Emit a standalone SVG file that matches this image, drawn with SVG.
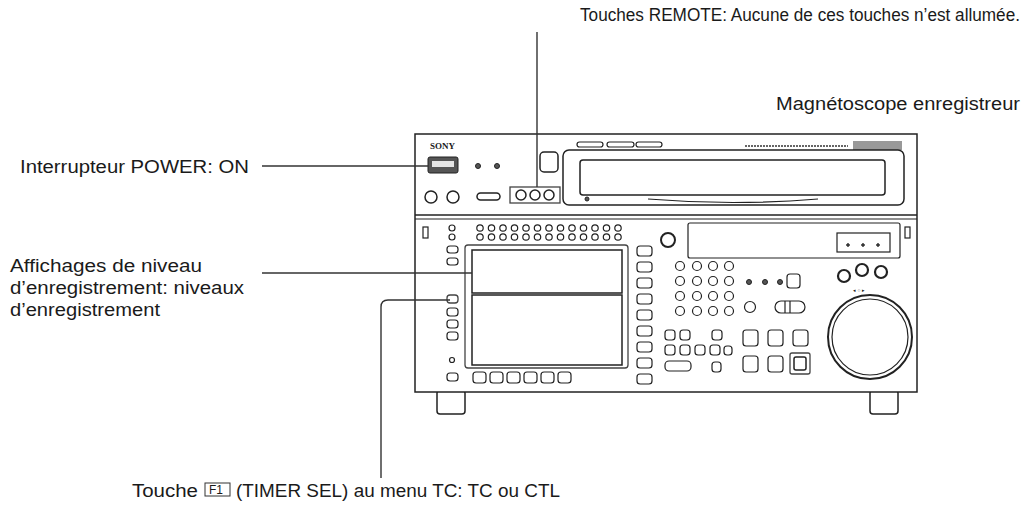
<svg xmlns="http://www.w3.org/2000/svg" width="1029" height="506" viewBox="0 0 1029 506">
<style>
text{font-family:"Liberation Sans",Arial,sans-serif;font-size:17.5px;fill:#1a1a1a}
.d{fill:#fff;stroke:#222;stroke-width:1.5}
.t{fill:none;stroke:#222;stroke-width:1.2}
.g{fill:#fff;stroke:#444;stroke-width:1.3}
.k{fill:#555;stroke:#222;stroke-width:1}
.l{fill:none;stroke:#333;stroke-width:1.4}
</style>
<rect width="1029" height="506" fill="#fff"/>
<g id="device">
<rect x="437" y="390" width="28" height="24" rx="3" class="d"/>
<rect x="870" y="390" width="28" height="24" rx="3" class="d"/>
<rect x="415" y="134" width="502" height="258" class="d" stroke-width="2"/>
<line x1="415" y1="215" x2="917" y2="215" class="d" stroke-width="2"/>
<line x1="415" y1="219" x2="917" y2="219" class="t"/>
<text x="430" y="149" style="font-family:'Liberation Serif',serif;font-size:9px;font-weight:bold">SONY</text>
<rect x="428" y="157" width="30" height="16" rx="2" class="k" fill="#aaa"/>
<rect x="432" y="161" width="22" height="6" fill="#e5e5e5"/>
<circle cx="478" cy="166" r="2.5" class="k"/><circle cx="497" cy="166" r="2.5" class="k"/>
<circle cx="431" cy="197" r="6" class="d" stroke-width="3"/><circle cx="453" cy="197" r="6" class="d" stroke-width="3"/>
<rect x="477" y="193" width="23" height="7" rx="3.5" class="d" stroke-width="2"/>
<rect x="540" y="152" width="18" height="20" rx="4" class="d" stroke-width="3"/>
<g id="remote"><rect x="510" y="187" width="50" height="16" class="g" fill="#ddd"/>
<circle cx="521" cy="195" r="5" class="d" stroke-width="2"/><circle cx="535" cy="195" r="5" class="d" stroke-width="2"/><circle cx="549" cy="195" r="5" class="d" stroke-width="2"/></g>
<rect x="577" y="142" width="26" height="5" rx="2.5" class="t"/><rect x="607" y="142" width="27" height="5" rx="2.5" class="t"/><rect x="636" y="142" width="26" height="5" rx="2.5" class="t"/>
<line x1="745" y1="146" x2="848" y2="146" stroke="#666" stroke-width="2" stroke-dasharray="2 1"/>
<rect x="853" y="141" width="49" height="9" fill="#999"/>
<rect x="563" y="150" width="341" height="55" rx="6" class="d"/>
<rect x="580" y="160" width="305" height="35" rx="3" class="d" stroke-width="2.5"/>
<path d="M648 199 Q733 206 818 199" class="t"/>
<circle cx="587" cy="199" r="2" class="k"/>
<rect x="423" y="227" width="5" height="11" class="t"/><rect x="905" y="227" width="5" height="11" class="t"/>
<circle cx="452" cy="228" r="3" class="t"/><circle cx="452" cy="237" r="3" class="t"/>
<rect x="447" y="246" width="11" height="7" rx="3" class="t"/><rect x="447" y="258" width="11" height="7" rx="3" class="t"/>
<rect x="447" y="295" width="11" height="8" rx="3" class="g" fill="#888"/>
<rect x="447" y="308" width="11" height="8" rx="3" class="t"/><rect x="447" y="320" width="11" height="8" rx="3" class="t"/><rect x="447" y="332" width="11" height="8" rx="3" class="t"/>
<circle cx="452" cy="360" r="2.5" class="t"/><rect x="447" y="373" width="11" height="8" rx="3" class="t"/>
<rect x="465" y="245" width="163" height="123" rx="3" class="g" fill="#eee"/>
<rect x="472" y="250" width="150" height="43" class="d"/>
<rect x="472" y="295" width="150" height="70" class="d"/>
<g class="t">
<circle cx="480" cy="228" r="3.2"/><circle cx="491.5" cy="228" r="3.2"/><circle cx="503" cy="228" r="3.2"/><circle cx="514.5" cy="228" r="3.2"/><circle cx="526" cy="228" r="3.2"/><circle cx="537.5" cy="228" r="3.2"/><circle cx="549" cy="228" r="3.2"/><circle cx="560.5" cy="228" r="3.2"/><circle cx="572" cy="228" r="3.2"/><circle cx="583.5" cy="228" r="3.2"/><circle cx="595" cy="228" r="3.2"/><circle cx="606.5" cy="228" r="3.2"/><circle cx="618" cy="228" r="3.2"/>
<circle cx="480" cy="237" r="3.2"/><circle cx="491.5" cy="237" r="3.2"/><circle cx="503" cy="237" r="3.2"/><circle cx="514.5" cy="237" r="3.2"/><circle cx="526" cy="237" r="3.2"/><circle cx="537.5" cy="237" r="3.2"/><circle cx="549" cy="237" r="3.2"/><circle cx="560.5" cy="237" r="3.2"/><circle cx="572" cy="237" r="3.2"/><circle cx="583.5" cy="237" r="3.2"/><circle cx="595" cy="237" r="3.2"/><circle cx="606.5" cy="237" r="3.2"/><circle cx="618" cy="237" r="3.2"/>
<rect x="473" y="372" width="13" height="11" rx="3"/><rect x="490" y="372" width="13" height="11" rx="3"/><rect x="507" y="372" width="13" height="11" rx="3"/><rect x="524" y="372" width="13" height="11" rx="3"/><rect x="541" y="372" width="13" height="11" rx="3"/><rect x="558" y="372" width="13" height="11" rx="3"/>
<rect x="637" y="246" width="15" height="10" rx="3"/><rect x="637" y="262" width="15" height="10" rx="3"/><rect x="637" y="278" width="15" height="10" rx="3"/><rect x="637" y="294" width="15" height="10" rx="3"/><rect x="637" y="310" width="15" height="10" rx="3"/><rect x="637" y="326" width="15" height="10" rx="3"/><rect x="637" y="342" width="15" height="10" rx="3"/><rect x="637" y="358" width="15" height="10" rx="3"/><rect x="637" y="374" width="15" height="10" rx="3"/>
<circle cx="668" cy="240" r="7" stroke-width="2"/>
<rect x="688" y="223" width="212" height="35" rx="2"/>
<rect x="837" y="233" width="53" height="19"/>
<circle cx="680" cy="266" r="4.5"/><circle cx="697" cy="266" r="4.5"/><circle cx="713" cy="266" r="4.5"/><circle cx="729" cy="266" r="4.5"/>
<circle cx="680" cy="281" r="4.5"/><circle cx="697" cy="281" r="4.5"/><circle cx="713" cy="281" r="4.5"/><circle cx="729" cy="281" r="4.5"/>
<circle cx="680" cy="296" r="4.5"/><circle cx="697" cy="296" r="4.5"/><circle cx="713" cy="296" r="4.5"/><circle cx="729" cy="296" r="4.5"/>
<circle cx="680" cy="311" r="4.5"/><circle cx="697" cy="311" r="4.5"/><circle cx="713" cy="311" r="4.5"/><circle cx="729" cy="311" r="4.5"/>
<rect x="787" y="274" width="13" height="14" rx="3"/>
<circle cx="750" cy="307" r="5.5"/><rect x="775" y="301" width="30" height="12" rx="6"/><line x1="785" y1="301" x2="785" y2="313"/><line x1="790" y1="301" x2="790" y2="313"/>
<rect x="665" y="330" width="10" height="10" rx="3"/><rect x="680" y="330" width="10" height="10" rx="3"/><rect x="712" y="330" width="10" height="10" rx="3"/>
<rect x="665" y="345" width="10" height="10" rx="3"/><rect x="680" y="345" width="10" height="10" rx="3"/><rect x="695" y="345" width="10" height="10" rx="3"/><rect x="710" y="345" width="10" height="10" rx="3"/><rect x="724" y="346" width="8" height="9" rx="3"/>
<rect x="665" y="361" width="26" height="10" rx="4"/><rect x="712" y="362" width="9" height="10" rx="3"/>
<rect x="743" y="330" width="15" height="16" rx="3"/><rect x="768" y="330" width="15" height="16" rx="3"/><rect x="793" y="330" width="15" height="16" rx="3"/>
<rect x="743" y="356" width="15" height="16" rx="3"/><rect x="768" y="356" width="15" height="16" rx="3"/>
<circle cx="870" cy="337" r="42" stroke-width="2"/><circle cx="870" cy="337" r="38"/>
<circle cx="844" cy="276" r="6" stroke-width="2.2"/><circle cx="862" cy="270" r="6" stroke-width="2.2"/><circle cx="881" cy="272" r="6" stroke-width="2.2"/>
</g>
<circle cx="749" cy="282" r="2.5" class="k"/><circle cx="765" cy="282" r="2.5" class="k"/><circle cx="780" cy="282" r="2.5" class="k"/>
<circle cx="848" cy="245" r="1.3" class="k"/><circle cx="863" cy="245" r="1.3" class="k"/><circle cx="878" cy="245" r="1.3" class="k"/>
<rect x="790" y="353" width="20" height="21" rx="2" class="g" fill="#999"/><rect x="794" y="357" width="12" height="13" rx="2" class="d"/>
<text x="853" y="292" style="font-size:5px">◂ ○ ▸</text>
</g>
<g id="connectors" class="l">
<line x1="537" y1="32" x2="537" y2="187"/>
<line x1="262" y1="166" x2="428" y2="166"/>
<line x1="262" y1="273" x2="472" y2="273"/>
<path d="M450 300 H388 Q381 300 381 307 V478"/>
</g>
<g id="labels">
<text x="580" y="21" textLength="440" lengthAdjust="spacingAndGlyphs">Touches REMOTE: Aucune de ces touches n’est allumée.</text>
<text x="776" y="110" textLength="244" lengthAdjust="spacingAndGlyphs">Magnétoscope enregistreur</text>
<text x="20" y="173" textLength="229" lengthAdjust="spacingAndGlyphs">Interrupteur POWER: ON</text>
<text x="10" y="272" textLength="192" lengthAdjust="spacingAndGlyphs">Affichages de niveau</text>
<text x="10" y="294" textLength="234" lengthAdjust="spacingAndGlyphs">d’enregistrement: niveaux</text>
<text x="10" y="316" textLength="150" lengthAdjust="spacingAndGlyphs">d’enregistrement</text>
<text x="132" y="497" textLength="66" lengthAdjust="spacingAndGlyphs">Touche</text>
<rect x="205" y="483" width="25" height="13" fill="none" stroke="#333" stroke-width="1"/>
<text x="209" y="494" style="font-size:12px">F1</text>
<text x="236" y="497" textLength="324" lengthAdjust="spacingAndGlyphs">(TIMER SEL) au menu TC: TC ou CTL</text>
</g>
</svg>
